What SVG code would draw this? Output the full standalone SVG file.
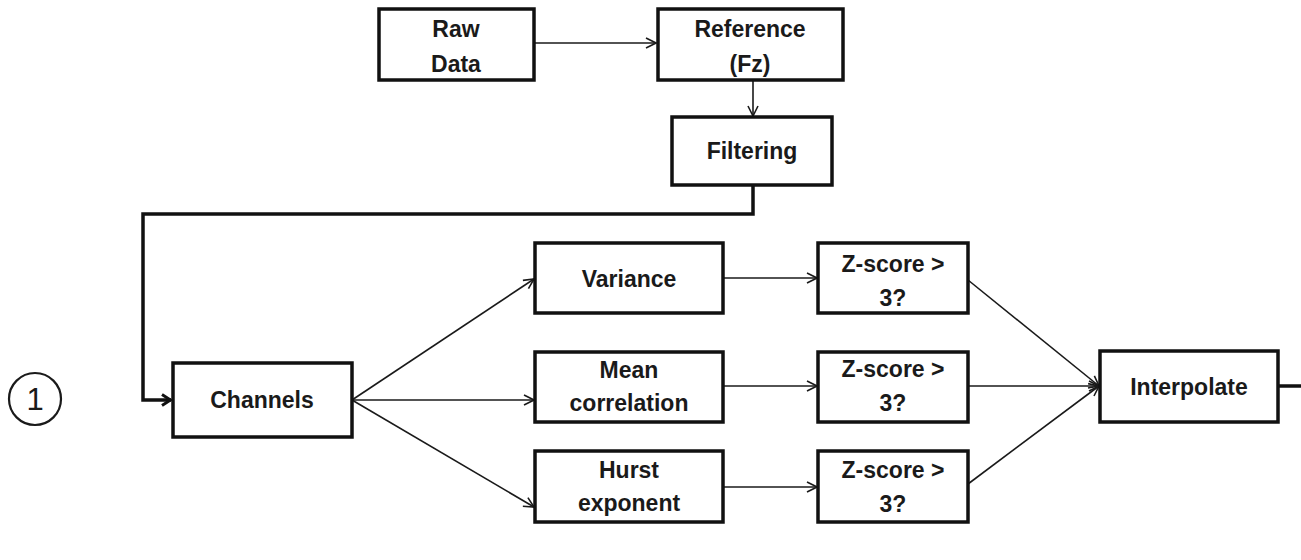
<svg xmlns="http://www.w3.org/2000/svg" width="1301" height="560" viewBox="0 0 1301 560">
  <style>
    .box { fill: #ffffff; stroke: #111111; stroke-width: 3.5; }
    .lbl { font-family: "Liberation Sans", Arial, sans-serif; font-weight: bold; font-size: 23px; fill: #1a1a1a; text-anchor: middle; }
    .thin { fill: none; stroke: #1a1a1a; stroke-width: 1.6; }
    .thick { fill: none; stroke: #111111; stroke-width: 3.5; }
    .num { font-family: "Liberation Sans", Arial, sans-serif; font-size: 31px; fill: #1a1a1a; text-anchor: middle; }
  </style>
  <defs>
    <marker id="chev" viewBox="0 0 12 12" refX="11" refY="6" markerWidth="12" markerHeight="12" markerUnits="userSpaceOnUse" orient="auto">
      <path d="M1,1 L11,6 L1,11" fill="none" stroke="#1a1a1a" stroke-width="1.6"/>
    </marker>
    <marker id="chevBold" viewBox="0 0 12 14" refX="11" refY="7" markerWidth="12" markerHeight="14" markerUnits="userSpaceOnUse" orient="auto">
      <path d="M2,1.5 L10.5,7 L2,12.5" fill="none" stroke="#111111" stroke-width="3"/>
    </marker>
  </defs>
  <rect width="1301" height="560" fill="#ffffff"/>

  <!-- connectors -->
  <g id="connectors">
    <line class="thin" x1="534" y1="43" x2="656" y2="43" marker-end="url(#chev)"/>
    <line class="thin" x1="753" y1="80" x2="753" y2="116" marker-end="url(#chev)"/>
    <polyline class="thick" points="753,185 753,214 143,214 143,400 171,400" marker-end="url(#chevBold)"/>
    <line class="thin" x1="352" y1="400" x2="534" y2="279" marker-end="url(#chev)"/>
    <line class="thin" x1="352" y1="400" x2="534" y2="400" marker-end="url(#chev)"/>
    <line class="thin" x1="352" y1="400" x2="534" y2="507" marker-end="url(#chev)"/>
    <line class="thin" x1="723" y1="278" x2="817" y2="278" marker-end="url(#chev)"/>
    <line class="thin" x1="723" y1="386" x2="817" y2="386" marker-end="url(#chev)"/>
    <line class="thin" x1="723" y1="487" x2="817" y2="487" marker-end="url(#chev)"/>
    <line class="thin" x1="968" y1="280" x2="1099" y2="386" marker-end="url(#chev)"/>
    <line class="thin" x1="968" y1="386" x2="1099" y2="386" marker-end="url(#chev)"/>
    <line class="thin" x1="968" y1="484" x2="1099" y2="386" marker-end="url(#chev)"/>
    <line class="thick" x1="1278" y1="386" x2="1301" y2="386"/>
  </g>

  <g id="step-1">
    <circle cx="35" cy="399" r="26" fill="none" stroke="#1a1a1a" stroke-width="2.2"/>
    <text class="num" x="35" y="410">1</text>
  </g>

  <g id="raw-data">
    <rect class="box" x="379" y="9" width="155" height="71"/>
    <text class="lbl" x="456" y="37">Raw</text>
    <text class="lbl" x="456" y="72">Data</text>
  </g>

  <g id="reference">
    <rect class="box" x="658" y="9" width="185" height="71"/>
    <text class="lbl" x="750" y="37">Reference</text>
    <text class="lbl" x="750" y="72">(Fz)</text>
  </g>

  <g id="filtering">
    <rect class="box" x="672" y="117" width="160" height="68"/>
    <text class="lbl" x="752" y="159">Filtering</text>
  </g>

  <g id="channels">
    <rect class="box" x="173" y="363" width="179" height="74"/>
    <text class="lbl" x="262" y="408">Channels</text>
  </g>

  <g id="variance">
    <rect class="box" x="535" y="243" width="188" height="70"/>
    <text class="lbl" x="629" y="287">Variance</text>
  </g>

  <g id="mean-correlation">
    <rect class="box" x="535" y="352" width="188" height="70"/>
    <text class="lbl" x="629" y="378">Mean</text>
    <text class="lbl" x="629" y="411">correlation</text>
  </g>

  <g id="hurst-exponent">
    <rect class="box" x="535" y="451" width="188" height="71"/>
    <text class="lbl" x="629" y="478">Hurst</text>
    <text class="lbl" x="629" y="511">exponent</text>
  </g>

  <g id="zscore-variance">
    <rect class="box" x="818" y="243" width="150" height="70"/>
    <text class="lbl" x="893" y="272">Z-score &gt;</text>
    <text class="lbl" x="893" y="306">3?</text>
  </g>

  <g id="zscore-correlation">
    <rect class="box" x="818" y="352" width="150" height="70"/>
    <text class="lbl" x="893" y="377">Z-score &gt;</text>
    <text class="lbl" x="893" y="411">3?</text>
  </g>

  <g id="zscore-hurst">
    <rect class="box" x="818" y="451" width="150" height="71"/>
    <text class="lbl" x="893" y="478">Z-score &gt;</text>
    <text class="lbl" x="893" y="512">3?</text>
  </g>

  <g id="interpolate">
    <rect class="box" x="1100" y="351" width="178" height="71"/>
    <text class="lbl" x="1189" y="395">Interpolate</text>
  </g>
</svg>
